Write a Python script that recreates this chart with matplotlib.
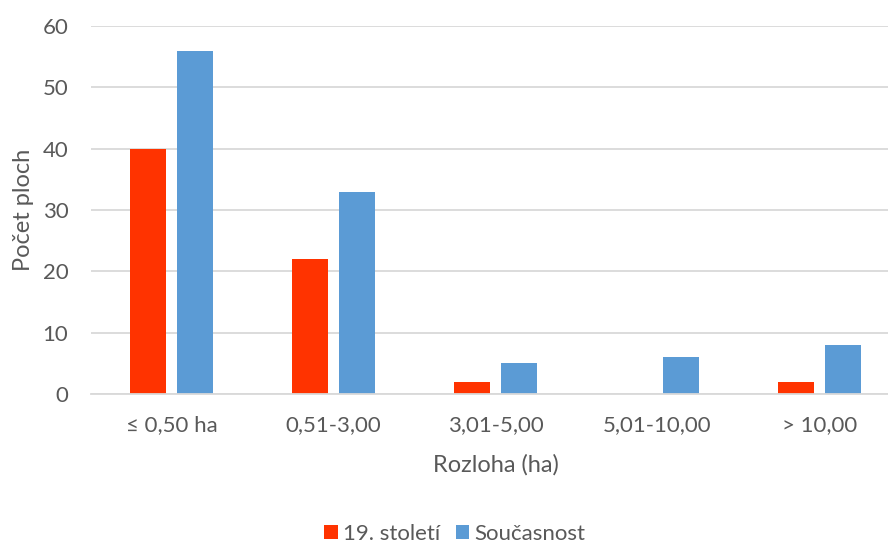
import matplotlib
matplotlib.use("Agg")
import matplotlib.pyplot as plt
import numpy as np

categories = ["≤ 0,50 ha", "0,51-3,00", "3,01-5,00", "5,01-10,00", "> 10,00"]
series_names = ["19. století", "Současnost"]
values_19 = [40, 22, 2, 0, 2]
values_now = [56, 33, 5, 6, 8]
y_ticks = [0, 10, 20, 30, 40, 50, 60]

plt.rcParams["font.family"] = ["Lato", "DejaVu Sans"]
text_color = "#595959"
grid_color = "#D9D9D9"
red = "#FF3300"
blue = "#5B9BD5"

fig = plt.figure(figsize=(8.88, 5.44), dpi=100)
ax = fig.add_axes([90.5 / 888, 1 - 394 / 544, 810 / 888, (394 - 26) / 544])

x = np.arange(len(categories))
w = 0.222
off = 0.145
ax.bar(x - off, values_19, width=w, color=red, label=series_names[0], zorder=3)
ax.bar(x + off, values_now, width=w, color=blue, label=series_names[1], zorder=3)

ax.set_xlim(-0.5, len(categories) - 0.5)
ax.set_ylim(0, 60)
ax.set_yticks(y_ticks)
ax.set_xticks(x)
ax.set_xticklabels(categories)
ax.grid(axis="y", color=grid_color, linewidth=1.3, zorder=0)
for s in ["top", "right", "left"]:
    ax.spines[s].set_visible(False)
ax.spines["bottom"].set_color(grid_color)
ax.spines["bottom"].set_linewidth(1.3)
ax.spines["bottom"].set_zorder(4)
ax.tick_params(axis="both", length=0, labelsize=16, labelcolor=text_color)
ax.tick_params(axis="y", pad=16)
ax.tick_params(axis="x", pad=15)

ax.set_ylabel("Počet ploch", fontsize=17, color=text_color, labelpad=6)
ax.set_xlabel("Rozloha (ha)", fontsize=17, color=text_color, labelpad=14)

fig.legend(loc="center", bbox_to_anchor=(455 / 888, 1 - 534 / 544), ncol=2,
           frameon=False, fontsize=16, labelcolor=text_color,
           handlelength=0.6, handleheight=0.6, handletextpad=0.25, columnspacing=0.7)

fig.savefig("out.png", dpi=100)
